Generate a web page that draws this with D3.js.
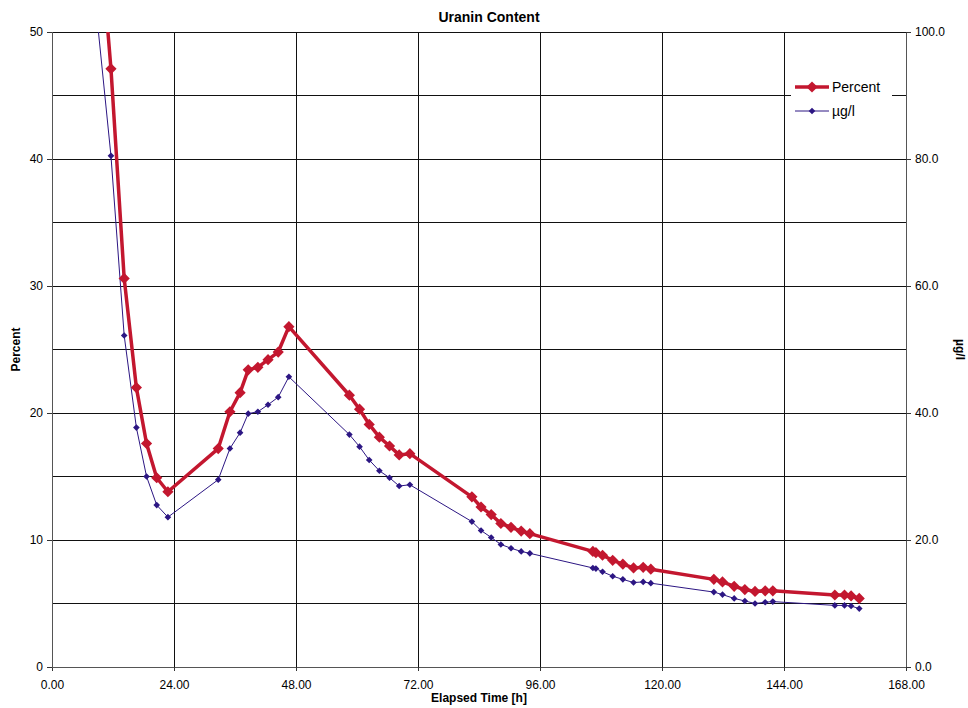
<!DOCTYPE html>
<html>
<head>
<meta charset="utf-8">
<script src="https://cdn.jsdelivr.net/npm/d3@7"></script>
<style>
  body { margin: 0; background: #fff; }
  svg { font-family: "Liberation Sans", Arial, sans-serif; }
</style>
</head>
<body>
<svg id="chart" width="968" height="708"></svg>
<script>
const hours = [8, 11.6, 14.2, 16.6, 18.6, 20.6, 22.8,
  32.7, 35.0, 37.0, 38.6, 40.5, 42.5, 44.5, 46.6,
  58.5, 60.5, 62.4, 64.4, 66.4, 68.3, 70.4,
  82.6, 84.4, 86.4, 88.3, 90.3, 92.3, 94.0,
  106.4, 107.0, 108.3, 110.3, 112.3, 114.4, 116.3, 117.8,
  130.2, 131.9, 134.2, 136.3, 138.3, 140.3, 141.8,
  154.0, 155.9, 157.2, 158.8];
const percent = [64.6, 47.1, 30.6, 22.0, 17.6, 14.9, 13.8,
  17.2, 20.1, 21.6, 23.4, 23.6, 24.2, 24.8, 26.8,
  21.4, 20.3, 19.1, 18.1, 17.4, 16.7, 16.8,
  13.4, 12.6, 12.0, 11.3, 11.0, 10.7, 10.5,
  9.1, 9.0, 8.8, 8.4, 8.1, 7.8, 7.85, 7.7,
  6.9, 6.7, 6.35, 6.1, 5.95, 6.0, 6.0,
  5.67, 5.67, 5.6, 5.4];
const ugl = [109, 80.5, 52.2, 37.7, 30.0, 25.5, 23.6,
  29.5, 34.4, 36.9, 39.9, 40.2, 41.3, 42.5, 45.7,
  36.6, 34.7, 32.6, 30.9, 29.8, 28.5, 28.7,
  22.9, 21.5, 20.4, 19.3, 18.7, 18.2, 17.9,
  15.6, 15.5, 15.0, 14.3, 13.8, 13.3, 13.4, 13.2,
  11.8, 11.4, 10.8, 10.4, 10.0, 10.2, 10.3,
  9.7, 9.7, 9.6, 9.2];
const xTicks = [0, 24, 48, 72, 96, 120, 144, 168];
const leftTicks = [0, 10, 20, 30, 40, 50];
const rightTicks = [0, 20, 40, 60, 80, 100];
const gridY = [5, 10, 15, 20, 25, 30, 35, 40, 45, 50];

const svg = d3.select("#chart");
const margin = { top: 32, right: 62, bottom: 41, left: 52 };
const width = 968 - margin.left - margin.right;
const height = 708 - margin.top - margin.bottom;

const g = svg.append("g").attr("transform", `translate(${margin.left},${margin.top})`);

const x = d3.scaleLinear().domain([0, 168]).range([0, width]);
const yLeft = d3.scaleLinear().domain([0, 50]).range([height, 0]);
const yRight = d3.scaleLinear().domain([0, 100]).range([height, 0]);

// grid
g.append("g")
  .selectAll("line")
  .data(gridY)
  .join("line")
  .attr("x1", 0).attr("x2", width)
  .attr("y1", d => yLeft(d)).attr("y2", d => yLeft(d))
  .attr("stroke", "#111").attr("stroke-width", 1)
  .attr("shape-rendering", "crispEdges");
g.append("g")
  .selectAll("line")
  .data(xTicks.slice(1))
  .join("line")
  .attr("x1", d => x(d)).attr("x2", d => x(d))
  .attr("y1", 0).attr("y2", height)
  .attr("stroke", "#111").attr("stroke-width", 1)
  .attr("shape-rendering", "crispEdges");

// axes
const xAxis = d3.axisBottom(x).tickValues(xTicks).tickFormat(d3.format(".2f")).tickSize(4).tickPadding(9);
const yAxisL = d3.axisLeft(yLeft).tickValues(leftTicks).tickSize(5).tickPadding(4);
const yAxisR = d3.axisRight(yRight).tickValues(rightTicks).tickFormat(d3.format(".1f")).tickSize(5).tickPadding(4);

function styleAxis(sel) {
  sel.select(".domain").attr("stroke", "#555").attr("shape-rendering", "crispEdges");
  sel.selectAll(".tick line").attr("stroke", "#333").attr("shape-rendering", "crispEdges");
  sel.selectAll("text").attr("font-size", 12).attr("fill", "#000")
    .attr("font-family", "'Liberation Sans', Arial, sans-serif");
}
g.append("g").attr("transform", `translate(0,${height})`).call(xAxis).call(styleAxis);
g.append("g").call(yAxisL).call(styleAxis);
g.append("g").attr("transform", `translate(${width},0)`).call(yAxisR).call(styleAxis);

// legend background (drawn before lines)
const legend = g.append("g").attr("transform", `translate(${x(144) + 7},36)`);
legend.append("rect").attr("x", 0).attr("y", 0).attr("width", 101).attr("height", 56).attr("fill", "#fff");

// clip
g.append("clipPath").attr("id", "clip").append("rect").attr("width", width).attr("height", height);
const plot = g.append("g").attr("clip-path", "url(#clip)");

const red = "#c3172f";
const blue = "#2c1683";
const pts = hours.map((h, i) => ({ h, p: percent[i], u: ugl[i] }));

plot.append("path").datum(pts)
  .attr("fill", "none").attr("stroke", blue).attr("stroke-width", 1)
  .attr("d", d3.line().x(d => x(d.h)).y(d => yRight(d.u)));
plot.append("path").datum(pts)
  .attr("fill", "none").attr("stroke", red).attr("stroke-width", 3.5)
  .attr("stroke-linejoin", "round")
  .attr("d", d3.line().x(d => x(d.h)).y(d => yLeft(d.p)));

const diamond = d3.symbol().type(d3.symbolDiamond2);
plot.selectAll(".pb").data(pts).join("path")
  .attr("transform", d => `translate(${x(d.h)},${yRight(d.u)})`)
  .attr("d", diamond.size(28)()).attr("fill", blue);
plot.selectAll(".pr").data(pts).join("path")
  .attr("transform", d => `translate(${x(d.h)},${yLeft(d.p)})`)
  .attr("d", d3.symbol().type(d3.symbolDiamond2).size(80)()).attr("fill", red);

// legend items
legend.append("line").attr("x1", 4).attr("x2", 38).attr("y1", 19).attr("y2", 19)
  .attr("stroke", red).attr("stroke-width", 3.5);
legend.append("path").attr("transform", "translate(21,19)")
  .attr("d", d3.symbol().type(d3.symbolDiamond2).size(80)()).attr("fill", red);
legend.append("text").attr("x", 41).attr("y", 24).attr("font-size", 14).text("Percent");
legend.append("line").attr("x1", 4).attr("x2", 38).attr("y1", 43).attr("y2", 43)
  .attr("stroke", blue).attr("stroke-width", 1);
legend.append("path").attr("transform", "translate(21,43)")
  .attr("d", d3.symbol().type(d3.symbolDiamond2).size(28)()).attr("fill", blue);
legend.append("text").attr("x", 41).attr("y", 48).attr("font-size", 14).text("µg/l");

// titles
svg.append("text").attr("x", 489).attr("y", 22).attr("text-anchor", "middle")
  .attr("font-size", 14).attr("font-weight", "bold").text("Uranin Content");
svg.append("text").attr("x", margin.left + width / 2).attr("y", 702).attr("text-anchor", "middle")
  .attr("font-size", 12).attr("font-weight", "bold").text("Elapsed Time [h]");
svg.append("text").attr("transform", `translate(20,${margin.top + height / 2}) rotate(-90)`)
  .attr("text-anchor", "middle").attr("font-size", 12).attr("font-weight", "bold").text("Percent");
svg.append("text").attr("transform", `translate(956,${margin.top + height / 2}) rotate(90)`)
  .attr("text-anchor", "middle").attr("font-size", 12).attr("font-weight", "bold").text("µg/l");
</script>
</body>
</html>
